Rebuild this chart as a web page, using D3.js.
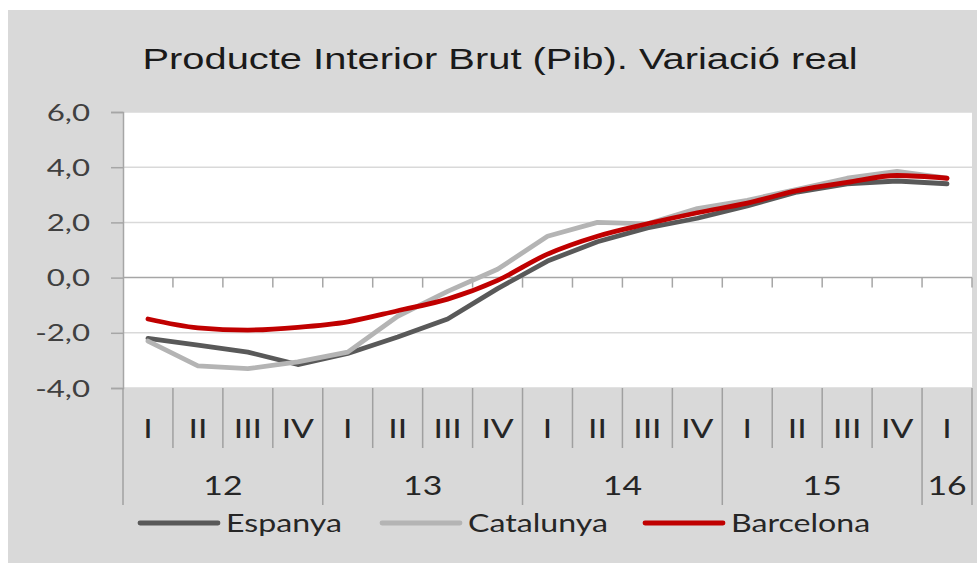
<!DOCTYPE html>
<html>
<head>
<meta charset="utf-8">
<script src="https://cdn.jsdelivr.net/npm/d3@7"></script>
<style>
  html, body { margin: 0; padding: 0; background: #ffffff; }
  svg { display: block; }
</style>
</head>
<body>
<svg id="chart" width="977" height="563"></svg>
<script>
// ---- DATA ----
const title = "Producte Interior Brut (Pib). Variació real";
const quarters = ["I","II","III","IV","I","II","III","IV","I","II","III","IV","I","II","III","IV","I"];
const years    = ["12","12","12","12","13","13","13","13","14","14","14","14","15","15","15","15","16"];
const yTicks = [-4, -2, 0, 2, 4, 6];
const seriesNames = ["Espanya", "Catalunya", "Barcelona"];
const espanya   = [-2.2, -2.45, -2.7, -3.15, -2.75, -2.15, -1.5, -0.4, 0.6, 1.3, 1.8, 2.15, 2.6, 3.1, 3.4, 3.5, 3.4];
const catalunya = [-2.3, -3.2, -3.3, -3.05, -2.7, -1.4, -0.5, 0.3, 1.5, 2.0, 1.95, 2.5, 2.8, 3.2, 3.6, 3.85, 3.6];
const barcelona = [-1.5, -1.82, -1.9, -1.8, -1.6, -1.2, -0.78, -0.1, 0.85, 1.5, 1.95, 2.35, 2.7, 3.15, 3.45, 3.7, 3.6];
const seriesColors = ["#595959", "#b4b4b4", "#c00000"];

// ---- LAYOUT ----
const SX = 1.3; // horizontal stretch of glyphs seen in the reference
const svg = d3.select("#chart");
const plot = { left: 123, right: 972, top: 112, bottom: 388 };

svg.append("rect").attr("x", 8).attr("y", 10).attr("width", 969).attr("height", 553).attr("fill", "#d9d9d9");
svg.append("rect").attr("x", plot.left).attr("y", plot.top)
  .attr("width", plot.right - plot.left).attr("height", plot.bottom - plot.top).attr("fill", "#ffffff");

const x = d3.scaleBand().domain(d3.range(quarters.length)).range([plot.left, plot.right]).padding(0);
const y = d3.scaleLinear().domain([-4, 6]).range([plot.bottom, plot.top]);

function stretchedText(g, tx, ty, txt, anchor, sx) {
  return g.append("text")
    .attr("transform", `translate(${tx},${ty}) scale(${sx || SX},1)`)
    .attr("text-anchor", anchor)
    .text(txt);
}

// Title
const tg = svg.append("g").attr("font-family", "'Liberation Sans', Arial, sans-serif")
  .attr("font-size", 30).attr("fill", "#1a1a1a");
stretchedText(tg, 500, 69, title, "middle", 1.33);

// Gridlines
svg.append("g").selectAll("line").data(yTicks.filter(d => d !== 0)).join("line")
  .attr("x1", plot.left).attr("x2", plot.right)
  .attr("y1", d => y(d)).attr("y2", d => y(d))
  .attr("stroke", "#d9d9d9").attr("stroke-width", 1.5);

// Y axis
const yAxis = svg.append("g").attr("transform", `translate(${plot.left},0)`)
  .call(d3.axisLeft(y).tickValues(yTicks).tickSize(12).tickFormat(() => ""));
yAxis.select(".domain").attr("stroke", "#a6a6a6").attr("stroke-width", 1.5);
yAxis.selectAll(".tick line").attr("stroke", "#a6a6a6").attr("stroke-width", 1.5);

const ylab = svg.append("g").attr("font-family", "Lato, 'Open Sans', sans-serif")
  .attr("font-size", 24).attr("fill", "#404040");
yTicks.forEach(v => {
  const s = d3.format(".1f")(v).replace("\u2212", "-").replace(".", ",");
  stretchedText(ylab, 90, y(v) + 8.5, s, "end");
});

// Zero axis with boundary ticks
const boundaries = d3.range(quarters.length + 1).map(i => i < quarters.length ? x(i) : plot.right);
svg.append("line").attr("x1", plot.left).attr("x2", plot.right)
  .attr("y1", y(0)).attr("y2", y(0)).attr("stroke", "#a6a6a6").attr("stroke-width", 1.5);
svg.append("g").selectAll("line").data(boundaries.slice(1)).join("line")
  .attr("x1", d => d).attr("x2", d => d)
  .attr("y1", y(0)).attr("y2", y(0) + 10)
  .attr("stroke", "#a6a6a6").attr("stroke-width", 1.5);

// Category axis (below plot)
const catG = svg.append("g");
boundaries.forEach((b, i) => {
  const isYear = i === 0 || i === quarters.length || years[i] !== years[i - 1];
  catG.append("line")
    .attr("x1", b).attr("x2", b)
    .attr("y1", plot.bottom).attr("y2", isYear ? 505 : 448)
    .attr("stroke", "#a0a0a0").attr("stroke-width", 1.5);
});
const catText = svg.append("g").attr("font-family", "Lato, 'Open Sans', sans-serif")
  .attr("font-size", 26).attr("fill", "#262626");
quarters.forEach((q, i) => {
  stretchedText(catText, x(i) + x.bandwidth() / 2, 438, q, "middle");
});
const yearGroups = d3.groups(d3.range(years.length), i => years[i]);
yearGroups.forEach(([yr, idx]) => {
  const x0 = x(idx[0]);
  const x1 = x(idx[idx.length - 1]) + x.bandwidth();
  stretchedText(catText, (x0 + x1) / 2, 495, yr, "middle");
});

// Lines
const allSeries = [espanya, catalunya, barcelona];
const curves = [d3.curveLinear, d3.curveLinear, d3.curveMonotoneX];
allSeries.forEach((vals, s) => {
  const line = d3.line()
    .x((d, i) => x(i) + x.bandwidth() / 2)
    .y(d => y(d))
    .curve(curves[s]);
  svg.append("path").datum(vals)
    .attr("d", line)
    .attr("fill", "none")
    .attr("stroke", seriesColors[s])
    .attr("stroke-width", 4.8)
    .attr("stroke-linejoin", "round")
    .attr("stroke-linecap", "round");
});

// Legend
const legendPos = [140, 382, 645];
const lg = svg.append("g").attr("font-family", "Lato, 'Open Sans', sans-serif")
  .attr("font-size", 25.5).attr("fill", "#262626");
seriesNames.forEach((name, s) => {
  const lx = legendPos[s];
  lg.append("line").attr("x1", lx).attr("x2", lx + 78)
    .attr("y1", 523).attr("y2", 523)
    .attr("stroke", seriesColors[s]).attr("stroke-width", 4.8).attr("stroke-linecap", "round");
  stretchedText(lg, lx + 86, 532, name, "start", 1.26);
});
</script>
</body>
</html>
